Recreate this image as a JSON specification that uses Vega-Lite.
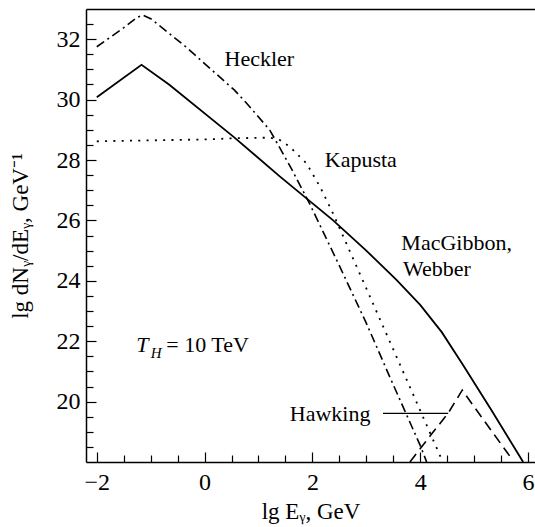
{
  "$schema": "https://vega.github.io/schema/vega-lite/v6.json",
  "width": 449,
  "height": 453,
  "autosize": {"type": "none"},
  "padding": {"left": 86, "top": 9, "right": 0, "bottom": 65},
  "config": {
    "view": {"stroke": null},
    "font": "Liberation Serif",
    "axis": {
      "domainColor": "black",
      "domainWidth": 1.5,
      "tickColor": "black",
      "tickWidth": 1.2,
      "labelColor": "black",
      "labelFont": "Liberation Serif",
      "labelFontSize": 24,
      "titleFont": "Liberation Serif",
      "titleFontSize": 23,
      "titleFontWeight": "normal",
      "titleColor": "black",
      "grid": false
    }
  },
  "datasets": {
    "curves": [
      {"series": "Heckler", "x": -2.0, "y": 31.75},
      {"series": "Heckler", "x": -1.5, "y": 32.38},
      {"series": "Heckler", "x": -1.25, "y": 32.72},
      {"series": "Heckler", "x": -1.15, "y": 32.8},
      {"series": "Heckler", "x": -1.0, "y": 32.68},
      {"series": "Heckler", "x": -0.35, "y": 31.75},
      {"series": "Heckler", "x": 0.55, "y": 30.32},
      {"series": "Heckler", "x": 0.78, "y": 29.88},
      {"series": "Heckler", "x": 1.21, "y": 28.99},
      {"series": "Heckler", "x": 1.6, "y": 27.75},
      {"series": "Heckler", "x": 1.95, "y": 26.55},
      {"series": "Heckler", "x": 2.5, "y": 24.5},
      {"series": "Heckler", "x": 3.0, "y": 22.6},
      {"series": "Heckler", "x": 3.44, "y": 20.8},
      {"series": "Heckler", "x": 4.0, "y": 18.55},
      {"series": "Heckler", "x": 4.12, "y": 18.0},
      {"series": "Kapusta", "x": -2.0, "y": 28.62},
      {"series": "Kapusta", "x": -1.0, "y": 28.65},
      {"series": "Kapusta", "x": 0.0, "y": 28.68},
      {"series": "Kapusta", "x": 0.55, "y": 28.72},
      {"series": "Kapusta", "x": 1.21, "y": 28.74},
      {"series": "Kapusta", "x": 1.4, "y": 28.66},
      {"series": "Kapusta", "x": 1.58, "y": 28.44},
      {"series": "Kapusta", "x": 1.89, "y": 27.89},
      {"series": "Kapusta", "x": 2.14, "y": 27.12},
      {"series": "Kapusta", "x": 2.38, "y": 26.24},
      {"series": "Kapusta", "x": 3.0, "y": 23.75},
      {"series": "Kapusta", "x": 3.75, "y": 20.72},
      {"series": "Kapusta", "x": 4.42, "y": 18.0},
      {"series": "MacGibbon", "x": -2.0, "y": 30.08},
      {"series": "MacGibbon", "x": -1.17, "y": 31.15},
      {"series": "MacGibbon", "x": -0.66, "y": 30.5},
      {"series": "MacGibbon", "x": 0.55, "y": 28.75},
      {"series": "MacGibbon", "x": 1.4, "y": 27.45},
      {"series": "MacGibbon", "x": 2.38, "y": 26.01},
      {"series": "MacGibbon", "x": 3.0, "y": 25.0},
      {"series": "MacGibbon", "x": 3.56, "y": 24.03},
      {"series": "MacGibbon", "x": 4.0, "y": 23.2},
      {"series": "MacGibbon", "x": 4.4, "y": 22.3},
      {"series": "MacGibbon", "x": 4.78, "y": 21.25},
      {"series": "MacGibbon", "x": 5.32, "y": 19.72},
      {"series": "MacGibbon", "x": 5.91, "y": 18.0},
      {"series": "Hawking", "x": 3.81, "y": 18.0},
      {"series": "Hawking", "x": 4.2, "y": 18.9},
      {"series": "Hawking", "x": 4.52, "y": 19.62},
      {"series": "Hawking", "x": 4.78, "y": 20.38},
      {"series": "Hawking", "x": 5.0, "y": 19.83},
      {"series": "Hawking", "x": 5.72, "y": 18.05}
    ],
    "labels": [
      {"kind": "plain", "x": 0.37, "y": 31.33, "text": "Heckler"},
      {"kind": "plain", "x": 2.23, "y": 28.01, "text": "Kapusta"},
      {"kind": "plain", "x": 3.65, "y": 25.25, "text": "MacGibbon,"},
      {"kind": "plain", "x": 3.68, "y": 24.39, "text": "Webber"},
      {"kind": "plain", "x": 1.58, "y": 19.6, "text": "Hawking"},
      {"kind": "italic", "x": -1.27, "y": 21.87, "text": "T"},
      {"kind": "sub", "x": -1.0, "y": 21.87, "text": "H"},
      {"kind": "plain", "x": -0.71, "y": 21.87, "text": "= 10 TeV"}
    ],
    "pointer": [
      {"x": 3.31, "x2": 4.52, "y": 19.61}
    ]
  },
  "resolve": {"axis": {"x": "independent", "y": "independent"}},
  "layer": [
    {
      "data": {"name": "curves"},
      "transform": [{"filter": "datum.series === 'Heckler'"}],
      "mark": {"type": "line", "color": "black", "strokeWidth": 1.6, "strokeDash": [9, 4, 2, 4], "clip": true},
      "encoding": {
        "x": {"field": "x", "type": "quantitative", "scale": {"domain": [-2.2, 6.13], "nice": false, "zero": false},
              "axis": {"orient": "bottom", "values": [-2, 0, 2, 4, 6], "tickSize": -10, "labelPadding": 18, "title": "lg Eᵧ, GeV", "titlePadding": 6}},
        "y": {"field": "y", "type": "quantitative", "scale": {"domain": [18, 33], "nice": false, "zero": false},
              "axis": {"orient": "left", "values": [20, 22, 24, 26, 28, 30, 32], "tickSize": -10, "labelPadding": 16, "title": "lg dNᵧ/dEᵧ, GeV⁻¹", "titlePadding": 24}},
        "order": {"field": "x", "type": "quantitative"}
      }
    },
    {
      "data": {"name": "curves"},
      "transform": [{"filter": "datum.series === 'Kapusta'"}],
      "mark": {"type": "line", "color": "black", "strokeWidth": 1.8, "strokeDash": [2, 6.3], "clip": true},
      "encoding": {
        "x": {"field": "x", "type": "quantitative",
              "axis": {"orient": "bottom", "values": [-1.5, -1, -0.5, 0.5, 1, 1.5, 2.5, 3, 3.5, 4.5, 5, 5.5], "tickSize": -7, "labels": false, "title": null, "domain": false}},
        "y": {"field": "y", "type": "quantitative",
              "axis": {"orient": "left", "values": [18.5, 19, 19.5, 20.5, 21, 21.5, 22.5, 23, 23.5, 24.5, 25, 25.5, 26.5, 27, 27.5, 28.5, 29, 29.5, 30.5, 31, 31.5, 32.5], "tickSize": -7, "labels": false, "title": null, "domain": false}},
        "order": {"field": "x", "type": "quantitative"}
      }
    },
    {
      "data": {"name": "curves"},
      "transform": [{"filter": "datum.series === 'MacGibbon'"}],
      "mark": {"type": "line", "color": "black", "strokeWidth": 1.8, "clip": true},
      "encoding": {
        "x": {"field": "x", "type": "quantitative",
              "axis": {"orient": "top", "ticks": false, "labels": false, "title": null, "domain": true}},
        "y": {"field": "y", "type": "quantitative", "axis": null},
        "order": {"field": "x", "type": "quantitative"}
      }
    },
    {
      "data": {"name": "curves"},
      "transform": [{"filter": "datum.series === 'Hawking'"}],
      "mark": {"type": "line", "color": "black", "strokeWidth": 1.6, "strokeDash": [10, 6], "clip": true},
      "encoding": {
        "x": {"field": "x", "type": "quantitative", "axis": null},
        "y": {"field": "y", "type": "quantitative", "axis": null},
        "order": {"field": "x", "type": "quantitative"}
      }
    },
    {
      "data": {"name": "pointer"},
      "mark": {"type": "rule", "color": "black", "strokeWidth": 1.3},
      "encoding": {
        "x": {"field": "x", "type": "quantitative", "axis": null},
        "x2": {"field": "x2"},
        "y": {"field": "y", "type": "quantitative", "axis": null}
      }
    },
    {
      "data": {"name": "labels"},
      "transform": [{"filter": "datum.kind === 'plain'"}],
      "mark": {"type": "text", "align": "left", "baseline": "middle", "font": "Liberation Serif", "fontSize": 22, "color": "black"},
      "encoding": {
        "x": {"field": "x", "type": "quantitative", "axis": null},
        "y": {"field": "y", "type": "quantitative", "axis": null},
        "text": {"field": "text"}
      }
    },
    {
      "data": {"name": "labels"},
      "transform": [{"filter": "datum.kind === 'italic'"}],
      "mark": {"type": "text", "align": "left", "baseline": "middle", "font": "Liberation Serif", "fontStyle": "italic", "fontSize": 22, "color": "black"},
      "encoding": {
        "x": {"field": "x", "type": "quantitative", "axis": null},
        "y": {"field": "y", "type": "quantitative", "axis": null},
        "text": {"field": "text"}
      }
    },
    {
      "data": {"name": "labels"},
      "transform": [{"filter": "datum.kind === 'sub'"}],
      "mark": {"type": "text", "align": "left", "baseline": "middle", "dy": 8, "font": "Liberation Serif", "fontStyle": "italic", "fontSize": 15, "color": "black"},
      "encoding": {
        "x": {"field": "x", "type": "quantitative", "axis": null},
        "y": {"field": "y", "type": "quantitative", "axis": null},
        "text": {"field": "text"}
      }
    }
  ]
}
